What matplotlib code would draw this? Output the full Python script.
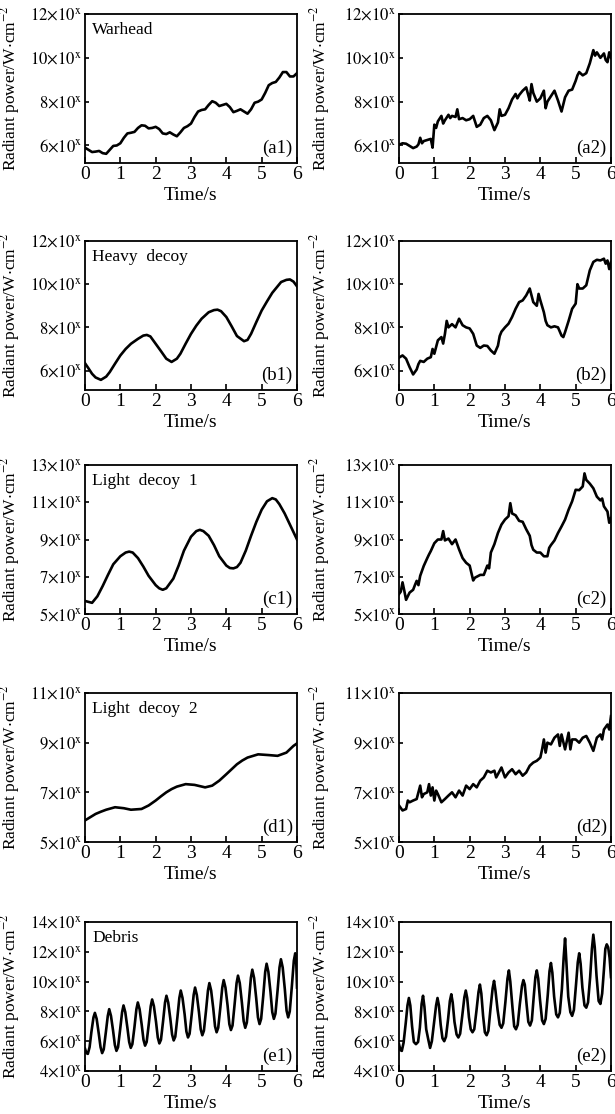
import matplotlib
matplotlib.use("Agg")
import matplotlib.pyplot as plt
from matplotlib.ticker import FixedLocator, FixedFormatter

plt.rcParams['font.family'] = ['Liberation Serif', 'DejaVu Serif']
plt.rcParams['mathtext.fontset'] = 'stix'

# ---- data (radiant power in units of 10^x W/cm^2) ----
a1_t = [i / 10 for i in range(61)]
a1_v = [5.90, 5.80, 5.70, 5.72, 5.75, 5.65, 5.62, 5.80, 5.98, 6.00,
        6.10, 6.35, 6.55, 6.58, 6.62, 6.80, 6.92, 6.90, 6.78, 6.80,
        6.85, 6.75, 6.55, 6.52, 6.60, 6.50, 6.42, 6.60, 6.80, 6.88,
        7.00, 7.30, 7.55, 7.62, 7.65, 7.85, 8.02, 7.95, 7.80, 7.85,
        7.90, 7.75, 7.52, 7.58, 7.65, 7.55, 7.45, 7.65, 7.95, 8.00,
        8.10, 8.40, 8.75, 8.85, 8.90, 9.10, 9.35, 9.35, 9.15, 9.15, 9.30]

a2_t = [0.0, 0.1, 0.2, 0.3, 0.4, 0.5, 0.55, 0.6, 0.65, 0.7, 0.8, 0.9, 0.95,
        1.0, 1.05, 1.1, 1.2, 1.25, 1.3, 1.4, 1.45, 1.5, 1.6, 1.65, 1.7, 1.8, 1.9,
        2.0, 2.1, 2.2, 2.3, 2.4, 2.5, 2.6, 2.7, 2.8, 2.85, 2.9, 3.0, 3.1, 3.2,
        3.3, 3.35, 3.4, 3.5, 3.6, 3.65, 3.7, 3.75, 3.8, 3.9, 4.0, 4.1, 4.15,
        4.2, 4.3, 4.4, 4.5, 4.6, 4.7, 4.8, 4.9, 5.0, 5.05, 5.1, 5.2, 5.3, 5.4,
        5.5, 5.55, 5.6, 5.7, 5.8, 5.85, 5.9, 5.95, 6.0]
a2_v = [6.03, 6.10, 6.08, 5.98, 5.88, 5.95, 6.05, 6.35, 6.10, 6.20, 6.25, 6.30, 5.90,
        6.95, 6.80, 7.10, 7.35, 7.00, 7.15, 7.40, 7.25, 7.35, 7.30, 7.65, 7.20, 7.25, 7.15,
        7.20, 7.35, 6.85, 6.95, 7.25, 7.35, 7.15, 6.70, 7.05, 7.65, 7.35, 7.40, 7.70, 8.10,
        8.35, 8.15, 8.30, 8.50, 8.65, 8.35, 8.05, 8.80, 8.40, 8.00, 8.15, 8.50, 7.70,
        8.00, 8.25, 8.50, 8.05, 7.55, 8.20, 8.50, 8.55, 8.95, 9.20, 9.35, 9.20, 9.30, 9.75,
        10.35, 10.10, 10.25, 10.00, 10.20, 9.90, 9.80, 10.25, 10.00]

b1_t = [0.0, 0.1, 0.2, 0.3, 0.45, 0.6, 0.7, 0.85, 1.0, 1.15, 1.3, 1.5, 1.65, 1.75,
        1.85, 2.0, 2.15, 2.3, 2.45, 2.6, 2.7, 2.85, 3.0, 3.15, 3.3, 3.5, 3.65, 3.75,
        3.85, 4.0, 4.15, 4.3, 4.5, 4.6, 4.7, 4.85, 5.0, 5.15, 5.3, 5.45, 5.55, 5.7,
        5.8, 5.9, 6.0]
b1_v = [6.34, 6.10, 5.85, 5.68, 5.57, 5.72, 5.93, 6.32, 6.70, 7.00, 7.24, 7.47, 7.62, 7.65,
        7.58, 7.24, 6.90, 6.55, 6.40, 6.55, 6.78, 7.25, 7.70, 8.08, 8.40, 8.70, 8.80, 8.82,
        8.75, 8.48, 8.05, 7.60, 7.36, 7.42, 7.70, 8.25, 8.78, 9.20, 9.60, 9.90, 10.10, 10.20,
        10.22, 10.12, 9.90]

b2_t = [0.0, 0.1, 0.2, 0.3, 0.4, 0.5, 0.55, 0.6, 0.7, 0.8, 0.9, 0.95, 1.0, 1.1,
        1.2, 1.25, 1.3, 1.35, 1.4, 1.5, 1.6, 1.7, 1.8, 1.9, 2.0, 2.1, 2.2, 2.3,
        2.4, 2.5, 2.6, 2.7, 2.8, 2.85, 2.9, 3.0, 3.1, 3.2, 3.3, 3.4, 3.5, 3.6,
        3.7, 3.8, 3.9, 3.95, 4.0, 4.1, 4.15, 4.2, 4.3, 4.4, 4.5, 4.6, 4.65, 4.7,
        4.8, 4.9, 5.0, 5.05, 5.1, 5.2, 5.3, 5.4, 5.5, 5.6, 5.7, 5.8, 5.85, 5.9,
        5.95, 6.0]
b2_v = [6.60, 6.70, 6.55, 6.16, 5.82, 6.05, 6.30, 6.45, 6.40, 6.55, 6.62, 7.00, 6.78, 7.40,
        7.55, 7.25, 7.70, 8.30, 8.00, 8.15, 8.00, 8.40, 8.10, 8.00, 7.95, 7.70, 7.16, 7.05,
        7.16, 7.14, 6.93, 6.78, 7.15, 7.60, 7.80, 8.00, 8.17, 8.48, 8.86, 9.17, 9.25, 9.48,
        9.80, 9.17, 9.00, 9.55, 9.25, 8.70, 8.30, 8.10, 8.00, 8.05, 8.00, 7.62, 7.55, 7.78,
        8.30, 8.86, 9.10, 10.00, 9.80, 9.80, 9.95, 10.64, 11.03, 11.13, 11.10, 11.18, 10.95, 11.10,
        10.70, 11.03]

c1_t = [0.0, 0.2, 0.35, 0.5, 0.65, 0.8, 1.0, 1.15, 1.25, 1.35, 1.5, 1.65, 1.8, 2.0,
        2.1, 2.2, 2.3, 2.5, 2.65, 2.8, 3.0, 3.15, 3.25, 3.35, 3.5, 3.65, 3.8, 4.0,
        4.1, 4.2, 4.3, 4.4, 4.55, 4.7, 4.85, 5.0, 5.15, 5.3, 5.4, 5.5, 5.65, 5.8,
        5.9, 6.0]
c1_v = [5.70, 5.60, 5.95, 6.50, 7.10, 7.67, 8.10, 8.30, 8.35, 8.30, 8.00, 7.55, 7.05, 6.55,
        6.38, 6.30, 6.38, 6.90, 7.60, 8.40, 9.15, 9.45, 9.52, 9.45, 9.20, 8.70, 8.10, 7.60,
        7.47, 7.45, 7.52, 7.75, 8.40, 9.20, 9.95, 10.60, 11.05, 11.22, 11.15, 10.90, 10.40, 9.80,
        9.40, 9.00]

c2_t = [0.0, 0.05, 0.1, 0.15, 0.2, 0.3, 0.4, 0.45, 0.5, 0.55, 0.6, 0.7, 0.8, 0.85,
        0.9, 1.0, 1.1, 1.2, 1.25, 1.3, 1.4, 1.5, 1.6, 1.7, 1.8, 1.9, 2.0, 2.1,
        2.15, 2.3, 2.4, 2.5, 2.55, 2.6, 2.7, 2.8, 2.9, 3.0, 3.1, 3.15, 3.2, 3.3,
        3.4, 3.5, 3.6, 3.7, 3.75, 3.8, 3.9, 4.0, 4.1, 4.2, 4.25, 4.3, 4.4, 4.5,
        4.6, 4.7, 4.8, 4.9, 5.0, 5.1, 5.2, 5.25, 5.3, 5.4, 5.5, 5.6, 5.7, 5.75,
        5.8, 5.9, 5.95, 6.0]
c2_v = [6.07, 6.20, 6.70, 6.25, 5.76, 6.15, 6.30, 6.55, 6.78, 6.55, 7.05, 7.58, 8.00, 8.20,
        8.38, 8.80, 9.00, 9.00, 9.45, 8.95, 9.05, 8.75, 9.00, 8.47, 8.00, 7.75, 7.60, 6.80,
        6.95, 7.10, 7.10, 7.60, 7.45, 8.30, 8.75, 9.35, 9.80, 10.07, 10.25, 10.95, 10.40, 10.30,
        10.00, 9.95, 9.55, 9.20, 8.70, 8.45, 8.30, 8.30, 8.10, 8.10, 8.55, 8.70, 8.95, 9.35,
        9.70, 10.07, 10.60, 11.05, 11.67, 11.65, 11.85, 12.55, 12.20, 12.00, 11.75, 11.30, 11.10, 11.20,
        10.78, 10.50, 9.90, 10.15]

d1_t = [0.0, 0.15, 0.3, 0.45, 0.6, 0.85, 1.1, 1.3, 1.6, 1.8, 2.0, 2.15, 2.3, 2.45,
        2.6, 2.85, 3.1, 3.4, 3.6, 3.8, 4.0, 4.15, 4.3, 4.45, 4.6, 4.9, 5.2, 5.45,
        5.7, 5.9, 6.0]
d1_v = [5.87, 6.00, 6.13, 6.22, 6.30, 6.40, 6.36, 6.30, 6.33, 6.47, 6.67, 6.84, 7.00, 7.13,
        7.23, 7.33, 7.30, 7.20, 7.27, 7.47, 7.73, 7.93, 8.13, 8.28, 8.40, 8.53, 8.50, 8.47,
        8.60, 8.87, 8.97]

d2_t = [0.0, 0.1, 0.2, 0.25, 0.3, 0.4, 0.5, 0.6, 0.65, 0.7, 0.8, 0.85, 0.9, 0.95,
        1.0, 1.05, 1.1, 1.2, 1.3, 1.4, 1.5, 1.6, 1.7, 1.8, 1.9, 2.0, 2.1, 2.2,
        2.3, 2.4, 2.5, 2.6, 2.7, 2.75, 2.8, 2.9, 3.0, 3.1, 3.2, 3.3, 3.4, 3.5,
        3.6, 3.7, 3.8, 3.9, 4.0, 4.05, 4.1, 4.15, 4.2, 4.3, 4.4, 4.5, 4.55, 4.6,
        4.7, 4.8, 4.85, 4.9, 5.0, 5.1, 5.2, 5.3, 5.4, 5.5, 5.6, 5.7, 5.75, 5.8,
        5.9, 5.95, 6.0]
d2_v = [6.47, 6.27, 6.33, 6.67, 6.60, 6.67, 6.73, 7.27, 6.80, 6.93, 7.00, 7.33, 6.87, 7.20,
        6.67, 7.07, 6.93, 6.60, 6.73, 6.87, 7.00, 6.80, 7.07, 6.87, 7.27, 7.13, 7.33, 7.20,
        7.47, 7.60, 7.87, 7.80, 7.87, 7.60, 7.73, 8.00, 7.60, 7.80, 7.93, 7.73, 7.87, 7.67,
        7.80, 8.07, 8.20, 8.27, 8.40, 8.73, 9.13, 8.60, 9.00, 8.93, 9.20, 9.33, 8.87, 9.33,
        8.73, 9.40, 8.73, 9.13, 9.13, 9.00, 9.20, 9.27, 9.00, 8.67, 9.20, 9.33, 9.13, 9.53,
        9.73, 9.53, 10.07]

e1_t = [0.00, 0.04, 0.08, 0.13, 0.18, 0.24, 0.28,
        0.33, 0.39, 0.44, 0.485, 0.53, 0.59, 0.645, 0.685,
        0.735, 0.795, 0.845, 0.89, 0.935, 0.995, 1.05, 1.09,
        1.14, 1.20, 1.25, 1.295, 1.34, 1.40, 1.455, 1.495,
        1.545, 1.605, 1.655, 1.70, 1.745, 1.805, 1.86, 1.90,
        1.95, 2.01, 2.06, 2.105, 2.15, 2.21, 2.265, 2.305,
        2.355, 2.415, 2.465, 2.51, 2.555, 2.615, 2.67, 2.71,
        2.76, 2.82, 2.87, 2.915, 2.96, 3.02, 3.075, 3.115,
        3.165, 3.225, 3.275, 3.32, 3.365, 3.425, 3.48, 3.52,
        3.57, 3.63, 3.68, 3.725, 3.77, 3.83, 3.885, 3.925,
        3.975, 4.035, 4.085, 4.13, 4.175, 4.235, 4.29, 4.33,
        4.38, 4.44, 4.49, 4.535, 4.58, 4.64, 4.695, 4.735,
        4.785, 4.845, 4.895, 4.94, 4.985, 5.045, 5.10, 5.14,
        5.19, 5.25, 5.30, 5.345, 5.39, 5.45, 5.505, 5.545,
        5.595, 5.655, 5.705, 5.75, 5.795, 5.855, 5.91, 5.95,
        5.98, 6.00]
e1_v = [5.50, 5.20, 5.15, 5.60, 6.60, 7.60, 7.90,
        7.50, 6.50, 5.60, 5.20, 5.45, 6.60, 7.70, 8.15,
        7.70, 6.70, 5.75, 5.35, 5.60, 6.80, 7.95, 8.40,
        7.95, 6.90, 5.95, 5.55, 5.80, 6.95, 8.15, 8.60,
        8.15, 7.10, 6.10, 5.70, 5.95, 7.15, 8.35, 8.80,
        8.35, 7.30, 6.25, 5.85, 6.10, 7.35, 8.60, 9.05,
        8.60, 7.50, 6.45, 6.05, 6.30, 7.60, 8.90, 9.40,
        8.90, 7.80, 6.65, 6.25, 6.50, 7.80, 9.10, 9.60,
        9.10, 7.95, 6.80, 6.40, 6.70, 8.05, 9.40, 9.90,
        9.40, 8.20, 7.00, 6.60, 6.90, 8.25, 9.60, 10.10,
        9.60, 8.40, 7.15, 6.75, 7.05, 8.50, 9.90, 10.40,
        9.90, 8.60, 7.35, 6.90, 7.25, 8.75, 10.25, 10.80,
        10.25, 8.90, 7.60, 7.15, 7.50, 9.05, 10.65, 11.20,
        10.65, 9.30, 7.95, 7.50, 7.85, 9.40, 10.95, 11.50,
        10.95, 9.50, 8.05, 7.60, 8.00, 9.70, 11.40, 11.90,
        11.20, 9.60]

e2_t = [0.00, 0.04, 0.08, 0.13, 0.19, 0.24, 0.28,
        0.32, 0.37, 0.42, 0.48, 0.54, 0.59, 0.64, 0.68,
        0.72, 0.77, 0.83, 0.88, 0.93, 0.99, 1.05, 1.09,
        1.13, 1.18, 1.23, 1.28, 1.33, 1.39, 1.44, 1.48,
        1.52, 1.57, 1.63, 1.68, 1.73, 1.79, 1.85, 1.89,
        1.93, 1.98, 2.03, 2.08, 2.13, 2.19, 2.25, 2.29,
        2.33, 2.38, 2.43, 2.48, 2.53, 2.59, 2.65, 2.69,
        2.73, 2.79, 2.85, 2.90, 2.95, 3.01, 3.07, 3.11,
        3.15, 3.21, 3.26, 3.31, 3.36, 3.42, 3.48, 3.52,
        3.56, 3.61, 3.66, 3.71, 3.76, 3.81, 3.86, 3.90,
        3.94, 3.99, 4.05, 4.10, 4.15, 4.21, 4.26, 4.30,
        4.34, 4.39, 4.45, 4.50, 4.55, 4.61, 4.66, 4.70,
        4.74, 4.79, 4.85, 4.90, 4.95, 5.01, 5.06, 5.10,
        5.14, 5.19, 5.25, 5.30, 5.35, 5.41, 5.46, 5.50,
        5.54, 5.59, 5.65, 5.70, 5.75, 5.80, 5.84, 5.88,
        5.92, 5.96, 6.00]
e2_v = [5.80, 5.40, 5.35, 5.90, 7.20, 8.40, 8.90,
        8.40, 7.00, 5.95, 5.80, 5.95, 6.90, 8.50, 9.05,
        8.30, 6.80, 6.10, 5.55, 6.00, 7.20, 8.40, 8.90,
        8.40, 7.10, 6.20, 6.00, 6.30, 7.50, 8.70, 9.15,
        8.60, 7.30, 6.45, 6.25, 6.50, 7.70, 8.95, 9.40,
        8.90, 7.60, 6.80, 6.60, 6.80, 8.00, 9.30, 9.80,
        9.20, 7.70, 6.60, 6.40, 6.70, 8.20, 9.55, 10.05,
        9.40, 8.10, 7.10, 6.90, 7.20, 8.60, 10.20, 10.75,
        10.00, 8.30, 7.00, 6.80, 7.10, 8.50, 9.70, 10.10,
        9.80, 8.50, 7.30, 7.05, 7.40, 8.90, 10.30, 10.75,
        10.20, 8.80, 7.40, 7.15, 7.50, 9.10, 10.70, 11.25,
        10.60, 9.00, 7.80, 7.60, 7.90, 9.50, 11.60, 12.90,
        11.20, 9.00, 7.95, 7.70, 8.10, 9.80, 11.30, 11.90,
        11.20, 9.60, 8.40, 8.25, 8.60, 10.30, 12.20, 13.15,
        12.30, 10.40, 8.70, 8.50, 9.20, 10.80, 12.20, 12.50,
        12.30, 11.60, 10.30]

panels = [
    [(a1_t, a1_v, 'Warhead', '(a1)'), (a2_t, a2_v, None, '(a2)')],
    [(b1_t, b1_v, 'Heavy  decoy', '(b1)'), (b2_t, b2_v, None, '(b2)')],
    [(c1_t, c1_v, 'Light  decoy  1', '(c1)'), (c2_t, c2_v, None, '(c2)')],
    [(d1_t, d1_v, 'Light  decoy  2', '(d1)'), (d2_t, d2_v, None, '(d2)')],
    [(e1_t, e1_v, 'Debris', '(e1)'), (e2_t, e2_v, None, '(e2)')],
]
row_ylim = [(5.2, 12), (5.1, 12), (5, 13), (5, 11), (4, 14)]
row_yticks = [[6, 8, 10, 12], [6, 8, 10, 12], [5, 7, 9, 11, 13],
              [5, 7, 9, 11], [4, 6, 8, 10, 12, 14]]
x_ticks = [0, 1, 2, 3, 4, 5, 6]

W, H = 615, 1114
col_left = [85, 399]
col_label_x = [-0.295, -0.315]
row_top = [14, 241, 465, 693, 922]
ax_w, ax_h = 212, 149

fig = plt.figure(figsize=(W / 100, H / 100), dpi=100)

for r, row in enumerate(panels):
    for c, (t, v, name, tag) in enumerate(row):
        ax = fig.add_axes([col_left[c] / W, 1 - (row_top[r] + ax_h) / H,
                           ax_w / W, ax_h / H])
        ax.plot(t, v, color='black', lw=1.9)
        ax.set_xlim(0, 6)
        ax.set_ylim(*row_ylim[r])
        ax.xaxis.set_major_locator(FixedLocator(x_ticks))
        ax.yaxis.set_major_locator(FixedLocator(row_yticks[r]))
        ax.yaxis.set_major_formatter(FixedFormatter(
            [r'$\mathrm{%d{\times}10^{x}}$' % k for k in row_yticks[r]]))
        ax.tick_params(axis='x', direction='in', length=4, width=1.2,
                       labelsize=14, pad=2)
        ax.tick_params(axis='y', direction='in', length=3, width=1.2,
                       labelsize=12, pad=2)
        for sp in ax.spines.values():
            sp.set_linewidth(1.3)
        ax.set_xlabel('Time/s', fontsize=14, labelpad=3)
        ax.set_ylabel(r'Radiant power/W$\cdot$cm$^{-2}$', fontsize=12.5)
        ax.yaxis.set_label_coords(col_label_x[c], 0.5)
        if name:
            ax.text(0.035, 0.89, name, transform=ax.transAxes,
                    fontsize=12.5, va='center', ha='left')
        ax.text(0.98, 0.10, tag, transform=ax.transAxes,
                fontsize=13.5, va='center', ha='right')

fig.savefig('out.png', dpi=100)
